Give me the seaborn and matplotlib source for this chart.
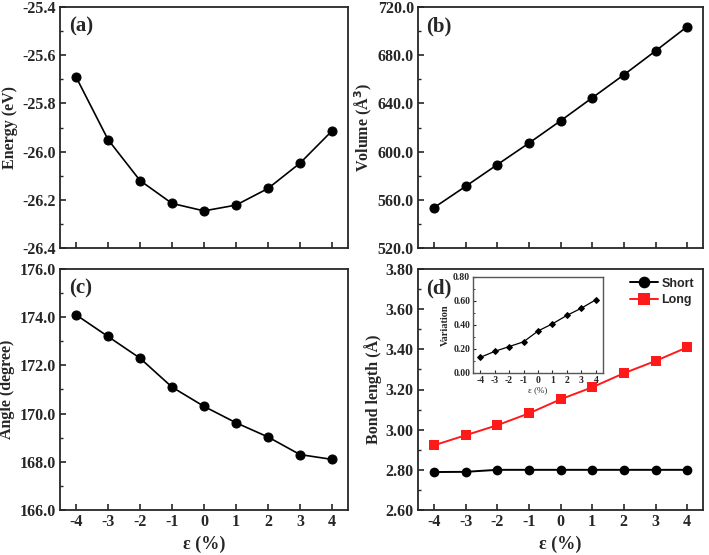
import numpy as np
import pandas as pd
import matplotlib
matplotlib.use("Agg")
import matplotlib.pyplot as plt
from matplotlib.ticker import AutoMinorLocator, FormatStrFormatter, MultipleLocator
import seaborn as sns

# ---- data ----
strain = [-4, -3, -2, -1, 0, 1, 2, 3, 4]
energy = [-25.69, -25.95, -26.12, -26.215, -26.246, -26.222, -26.153, -26.048, -25.914]
volume = [553.4, 571.1, 589.1, 607.0, 625.5, 644.6, 663.7, 683.5, 703.7]
angle = [174.1, 173.2, 172.3, 171.1, 170.3, 169.62, 169.03, 168.3, 168.1]
bond_short = [2.789, 2.790, 2.800, 2.800, 2.800, 2.800, 2.800, 2.800, 2.800]
bond_long = [2.922, 2.972, 3.022, 3.081, 3.151, 3.211, 3.281, 3.342, 3.410]
variation = [0.13, 0.18, 0.22, 0.26, 0.35, 0.41, 0.48, 0.54, 0.61]
series_names = ["Short", "Long"]
series_colors = ["black", "#ff1a1a"]

sns.set_style("ticks")
plt.rcParams["font.family"] = ["Liberation Serif", "DejaVu Serif"]
plt.rcParams["font.weight"] = "bold"
plt.rcParams["axes.labelweight"] = "bold"
plt.rcParams["axes.linewidth"] = 1.3
plt.rcParams["axes.unicode_minus"] = False
plt.rcParams["xtick.direction"] = "in"
plt.rcParams["ytick.direction"] = "in"

fig = plt.figure(figsize=(7.09, 5.55), dpi=100)
W, H = 709.0, 555.0

def rect(l, t, r, b):
    return [l / W, 1 - b / H, (r - l) / W, (b - t) / H]

ax_a = fig.add_axes(rect(60, 7, 348, 248))
ax_b = fig.add_axes(rect(418, 7, 703, 248))
ax_c = fig.add_axes(rect(60, 269, 348, 510))
ax_d = fig.add_axes(rect(418, 269, 703, 510))

def style(ax, ylim, step, fmt, label, tag, xlab):
    ax.set_xlim(-4.5, 4.5)
    ax.set_ylim(*ylim)
    ax.xaxis.set_major_locator(MultipleLocator(1))
    ax.yaxis.set_major_locator(MultipleLocator(step))
    ax.yaxis.set_minor_locator(AutoMinorLocator(2))
    ax.yaxis.set_major_formatter(FormatStrFormatter(fmt))
    ax.tick_params(axis="both", which="major", length=4, width=1.2, labelsize=11.5, pad=3)
    ax.tick_params(axis="y", which="minor", length=2.5, width=1.0)
    ax.tick_params(top=False, right=False)
    ax.set_ylabel(label, fontsize=11.5, fontweight="bold", labelpad=3)
    if xlab:
        ax.set_xlabel("ε (%)", fontsize=13, fontweight="bold", labelpad=4)
    else:
        ax.set_xlabel("")
        ax.set_xticklabels([])
    for lab in ax.get_xticklabels() + ax.get_yticklabels():
        lab.set_fontweight("bold")
    ax.text(0.03, 0.96, tag, transform=ax.transAxes, ha="left", va="top",
            fontsize=15, fontweight="bold")
    for s in ax.spines.values():
        s.set_linewidth(1.3)
        s.set_visible(True)

lkw = dict(color="black", marker="o", markersize=6.5, linewidth=1.2,
           markeredgecolor="black")

sns.lineplot(x=strain, y=energy, ax=ax_a, **lkw)
style(ax_a, (-26.4, -25.4), 0.2, "%.1f", "Energy (eV)", "(a)", False)

sns.lineplot(x=strain, y=volume, ax=ax_b, **lkw)
style(ax_b, (520, 720), 40, "%.1f", "Volume (Å$^3$)", "(b)", False)

sns.lineplot(x=strain, y=angle, ax=ax_c, **lkw)
style(ax_c, (166, 176), 2, "%.1f", "Angle (degree)", "(c)", True)

df = pd.DataFrame({
    "strain": strain * 2,
    "bond": bond_short + bond_long,
    "type": [series_names[0]] * len(strain) + [series_names[1]] * len(strain),
})
sns.lineplot(data=df, x="strain", y="bond", hue="type", style="type",
             markers={"Short": "o", "Long": "s"}, dashes=False,
             palette=dict(zip(series_names, series_colors)),
             markersize=7, linewidth=1.4, markeredgewidth=0, ax=ax_d)
style(ax_d, (2.6, 3.8), 0.2, "%.2f", "Bond length (Å)", "(d)", True)
leg = ax_d.legend(loc="upper right", frameon=False, handlelength=2.2,
                  handletextpad=0.3, borderaxespad=0.3, labelspacing=0.35,
                  markerscale=1.2,
                  prop={"family": "Liberation Sans", "weight": "bold", "size": 9})

# inset
ax_in = fig.add_axes(rect(473, 277, 603, 373))
sns.lineplot(x=strain, y=variation, ax=ax_in, color="black", marker="D",
             markersize=3, linewidth=0.9, markeredgecolor="black")
ax_in.set_xlim(-4.5, 4.5)
ax_in.set_ylim(0, 0.8)
ax_in.xaxis.set_major_locator(MultipleLocator(1))
ax_in.yaxis.set_major_locator(MultipleLocator(0.2))
ax_in.yaxis.set_minor_locator(AutoMinorLocator(2))
ax_in.yaxis.set_major_formatter(FormatStrFormatter("%.2f"))
ax_in.tick_params(axis="both", which="major", length=2.5, width=0.8, labelsize=7, pad=2)
ax_in.tick_params(axis="y", which="minor", length=1.5, width=0.6)
ax_in.tick_params(top=False, right=False)
ax_in.set_ylabel("Variation", fontsize=7.5, fontweight="bold", labelpad=2)
ax_in.set_xlabel("ε (%)", fontsize=6.5, fontweight="normal", labelpad=1)
for lab in ax_in.get_xticklabels() + ax_in.get_yticklabels():
    lab.set_fontweight("bold")
for s in ax_in.spines.values():
    s.set_linewidth(1.0)
    s.set_color("#555555")
    s.set_visible(True)

fig.savefig("out.png", dpi=100)
